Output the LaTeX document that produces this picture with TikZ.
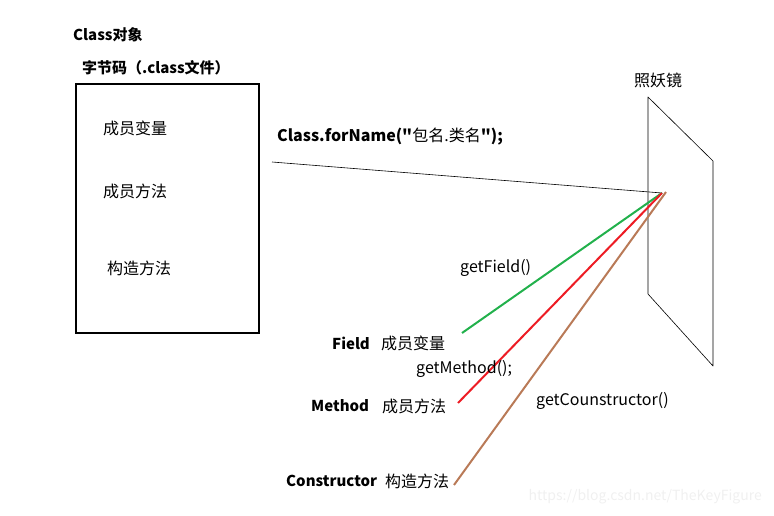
\documentclass[tikz,border=0pt]{standalone}
\usepackage{fontspec}
\setmainfont{Noto Sans CJK SC}
\newfontfamily\quotefont{Noto Sans CJK SC}
\definecolor{getgreen}{RGB}{34,177,76}
\definecolor{getred}{RGB}{237,28,36}
\definecolor{getbrown}{RGB}{185,122,87}
\usetikzlibrary{positioning}
\tikzset{
  lbl/.style={anchor=west,inner sep=0pt,font=\fontsize{16}{19}\selectfont},
  blbl/.style={lbl,font=\fontsize{15}{18}\selectfont\bfseries},
  ray/.style={line width=2pt},
  glass/.style={draw,line width=0.6pt,line join=round},
}

\begin{document}
\begin{tikzpicture}[x=1pt,y=-1pt]
  \useasboundingbox (0,0) rectangle (774,516);
  % class file box
  \node[blbl] (obj) at (73,35) {Class对象};
  \node[blbl] (bytecode) at (82,68) {字节码（.class文件）};
  \node[draw,line width=2pt,anchor=north west,minimum width=183,minimum height=249,inner sep=0pt] (code) at (75,83) {};
  \node[lbl] (cfield) at (103,128) {成员变量};
  \node[lbl] (cmethod) at (103,191) {成员方法};
  \node[lbl] (cctor) at (107,268) {构造方法};
  % the mirror
  \node[lbl] (mirrortxt) at (634,80) {照妖镜};
  \coordinate (m1) at (648,97);
  \coordinate (m2) at (713,161);
  \coordinate (m3) at (713,366);
  \coordinate (m4) at (648,294);
  \draw[glass] (m1) -- (m2) -- (m3) -- (m4) -- cycle;
  \node[lbl] (forname) at (277,137) {\textbf{Class.forName(}{\quotefont\bfseries "}包名.类名{\quotefont\bfseries "}\textbf{);}};
  \coordinate (src) at (272,162);
  \coordinate (focus) at (662,193);
  \draw[line width=0.6pt] (src) -- (focus);
  % results
  \node[blbl] (field) at (332,343) {Field};
  \node[lbl] (fieldcn) at (381,343) {成员变量};
  \node[blbl] (method) at (311,406) {Method};
  \node[lbl] (methodcn) at (382,406) {成员方法};
  \node[blbl] (ctor) at (286,481) {Constructor};
  \node[lbl] (ctorcn) at (385,481) {构造方法};
  \coordinate (fieldend) at (462,333);
  \coordinate (methodend) at (458,403);
  \coordinate (ctorend) at (454,485);
  \draw[ray,getgreen] (focus) -- (fieldend);
  \draw[ray,getred] (focus) -- (methodend);
  \draw[ray,getbrown] (666,192) -- (ctorend);
  \node[lbl] (getf) at (460,268) {getField()};
  \node[lbl] (getm) at (416,369) {getMethod();};
  \node[lbl] (getc) at (536,401) {getCounstructor()};
  \node[lbl,anchor=east,text=gray!12,font=\fontsize{14}{17}\selectfont] (mark) at (762,497) {https://blog.csdn.net/TheKeyFigure};
\end{tikzpicture}
\end{document}
